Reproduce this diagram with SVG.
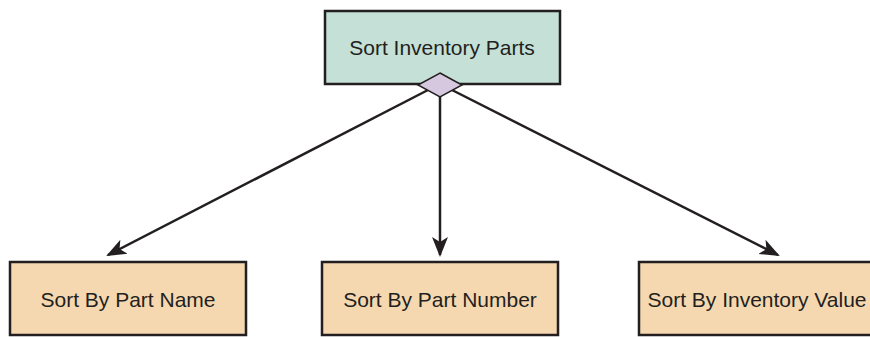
<svg xmlns="http://www.w3.org/2000/svg" width="870" height="337" viewBox="0 0 870 337">
<style>
.box{stroke:#231f20;stroke-width:2.5}
.top{fill:#c5e0d6}
.leaf{fill:#f5d8b0}
.t{font-family:"Liberation Sans",Arial,sans-serif;font-size:21px;fill:#231f20;text-anchor:middle}
.c{stroke:#231f20;stroke-width:2.5;fill:none;marker-end:url(#ah)}
</style>
<defs>
<marker id="ah" markerWidth="8" markerHeight="8" viewBox="0 0 10 10" refX="9" refY="5" orient="auto" markerUnits="strokeWidth">
<path d="M0,1 L10,5 L0,9 L2.5,5 Z" fill="#231f20"/>
</marker>
</defs>
<g id="connectors">
<line class="c" x1="428" y1="90" x2="108" y2="255"/>
<line class="c" x1="440" y1="94" x2="440" y2="255"/>
<line class="c" x1="452" y1="90" x2="778" y2="255"/>
</g>
<g id="sort-inventory-parts">
<rect class="box top" x="325" y="11" width="235" height="73"/>
<text class="t" x="442" y="55">Sort Inventory Parts</text>
<polygon points="440,73 462,85 440,97 418,85" fill="#d6c9df" stroke="#231f20" stroke-width="1.5"/>
</g>
<g id="sort-by-part-name">
<rect class="box leaf" x="10" y="262" width="236" height="73"/>
<text class="t" x="128" y="307">Sort By Part Name</text>
</g>
<g id="sort-by-part-number">
<rect class="box leaf" x="322" y="262" width="236" height="73"/>
<text class="t" x="440" y="307">Sort By Part Number</text>
</g>
<g id="sort-by-inventory-value">
<rect class="box leaf" x="639" y="262" width="240" height="73"/>
<text class="t" x="757" y="307">Sort By Inventory Value</text>
</g>
</svg>
